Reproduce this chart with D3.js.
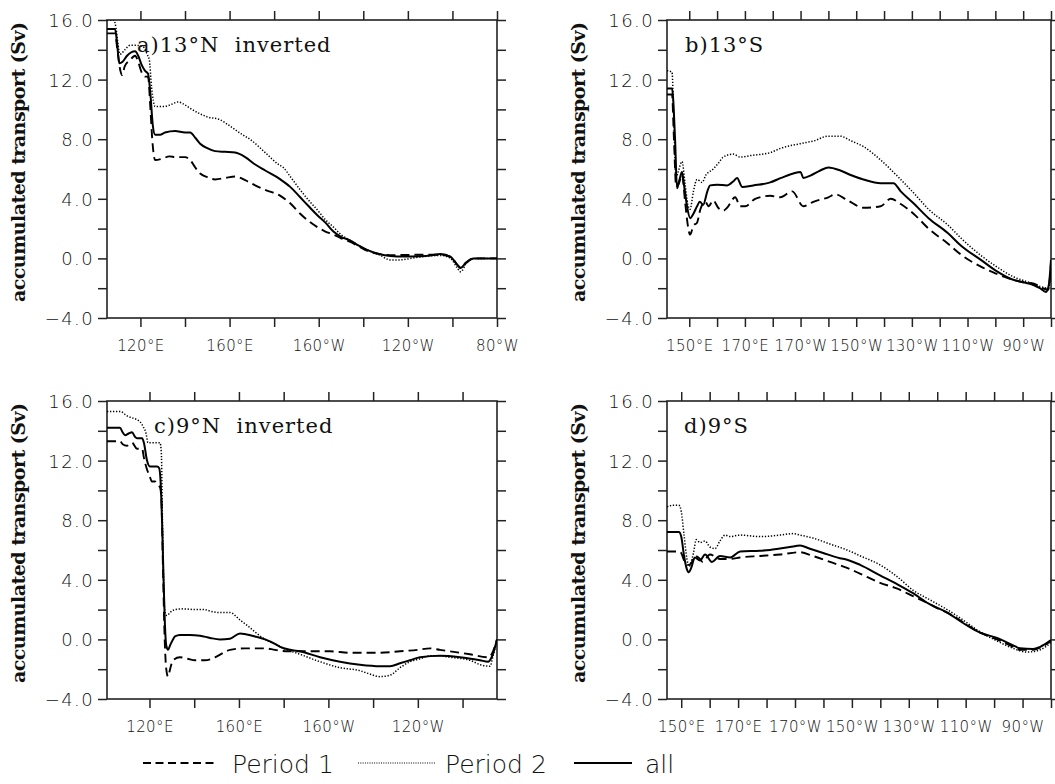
<!DOCTYPE html>
<html>
<head>
<meta charset="utf-8">
<script src="https://cdn.jsdelivr.net/npm/d3@7"></script>
<style>
  html, body { margin: 0; padding: 0; background: #fff; }
  svg { display: block; }
</style>
</head>
<body>
<svg id="chart" width="1055" height="784"></svg>
<script>
// ---- accumulated transport (Sv) along each section, [longitude (deg E, 0-360), value] ----

// a) 13°N inverted
const a_period1 = [[105,15.1],[108.6,15.1],[109.5,14.2],[111,12.6],[111.7,12.3],[113,12.9],[115.3,13.3],[117.6,13.6],[119,13.2],[120.5,12.5],[122,12.2],[123.4,12.2],[124.5,10],[125.3,8],[126.6,6.6],[130,6.7],[133,6.85],[136,6.8],[140,6.8],[142.3,6.6],[144.6,6.1],[146.8,5.7],[150,5.45],[153.5,5.3],[158,5.4],[162.5,5.5],[167,5.25],[171.5,4.9],[176,4.6],[182.8,4.2],[187.2,3.7],[191.7,3.0],[195.5,2.5],[199.4,2.1],[203,1.8],[206.6,1.6],[210,1.35],[214.2,1.1],[218,0.8],[221.9,0.5],[227,0.3],[232.2,0.22],[240,0.23],[245.7,0.25],[254.7,0.25],[259.2,0.1],[263.7,-0.6],[266,-0.3],[269.5,0],[280,0]];
const a_period2 = [[105,16],[108,16],[109,15.5],[110,14.3],[110.8,13.7],[113,14.0],[115.3,14.3],[118,14.3],[121.2,14.2],[123,13.7],[124,13.3],[125,11.5],[126.6,10.2],[131,10.2],[134,10.35],[136.9,10.5],[140,10.3],[142,10.1],[146.8,9.7],[150,9.5],[155.8,9.3],[160,8.9],[164.8,8.4],[170,7.9],[176,7.1],[182,6.3],[184.1,6.1],[187.2,5.5],[191.7,4.6],[195.5,3.9],[199.4,3.25],[203,2.6],[206.6,2.1],[210,1.6],[214.2,1.2],[220,0.7],[227.7,0.2],[232,-0.1],[236,-0.1],[245.7,0.1],[254.7,0.2],[259.2,0],[262,-0.6],[263.7,-0.9],[266,-0.4],[270,0],[280,0]];
const a_all = [[105,15.4],[108.6,15.4],[109.5,14.5],[110.5,13.1],[112,13.2],[114,13.6],[117.6,13.9],[119,13.6],[120.5,13.0],[122,12.6],[123.4,12.4],[124.5,11],[125.5,9],[126.6,8.3],[128.8,8.3],[131,8.45],[135.6,8.55],[140,8.45],[142.3,8.45],[144.6,8.1],[146.8,7.7],[150,7.4],[153.5,7.2],[158,7.15],[162.5,7.1],[167,6.8],[171.5,6.3],[176,5.9],[182.8,5.3],[187.2,4.8],[191.7,4.1],[195.5,3.5],[199.4,2.9],[203,2.4],[206.6,1.8],[210,1.45],[214.2,1.2],[218,0.85],[221.9,0.56],[227,0.3],[232.2,0.16],[238,0.12],[245.7,0.15],[250,0.2],[254.7,0.3],[259.2,0.1],[262,-0.4],[263.7,-0.65],[266,-0.3],[269.5,0],[280,0]];

// b) 13°S
const b_period1 = [[142,11.0],[143.8,11.0],[144.5,8],[145.3,4.8],[146.2,5.0],[147.4,5.6],[148.5,3.8],[149.5,2.2],[150.3,1.6],[151.5,2.2],[152.8,2.4],[154,3.3],[155.7,3.8],[157,3.5],[158.6,3.9],[160.4,3.4],[162.2,3.2],[163.6,3.4],[166.5,4.1],[168.3,3.5],[170.1,3.5],[173.7,4.0],[179.1,4.2],[182.7,4.1],[187,4.5],[191,3.5],[194.6,3.8],[200,4.1],[202.5,4.3],[206.9,3.9],[212.6,3.4],[218.8,3.5],[222.4,4.0],[226,3.65],[230.6,3.0],[236,2.0],[242.9,1.0],[248,0.2],[254.8,-0.55],[260,-1.0],[266.7,-1.45],[270,-1.6],[273.9,-1.7],[277,-2.0],[279,-2.1],[280,-0.3]];
const b_period2 = [[142,12.6],[143.8,12.5],[144.5,9],[145.2,5.4],[146,5.8],[147.4,6.5],[148.5,5.0],[149.5,3.6],[150.3,3.3],[151.5,4.5],[152.8,5.3],[154.6,5.1],[156,5.6],[158.6,6.0],[160.5,6.4],[162.2,6.8],[165.8,7.0],[168.3,6.8],[172,6.9],[179.1,7.1],[183,7.4],[189.9,7.7],[195,7.9],[199.7,8.2],[204.3,8.2],[208,7.9],[212.6,7.5],[218.8,6.6],[224.9,5.5],[230.6,4.4],[236,3.3],[242.9,2.25],[248,1.3],[254.8,0.2],[260,-0.5],[266.7,-1.25],[272,-1.6],[276.4,-1.9],[279,-2.0],[279.6,-1.5],[280,-0.6]];
const b_all = [[142,11.4],[143.8,11.4],[144.9,8],[145.6,4.7],[146.5,5.3],[147.4,5.8],[148.2,4.8],[149.2,3.5],[150.3,2.7],[151.5,3.0],[152.8,3.5],[153.8,3.8],[155,3.6],[156.5,4.5],[157.5,4.9],[160,4.95],[163.6,4.9],[166,5.2],[167.2,5.4],[169,4.8],[173,4.9],[179.1,5.1],[183,5.4],[187.4,5.7],[190,5.8],[191,5.4],[194,5.6],[197.1,5.9],[200,6.1],[204.3,5.9],[208,5.6],[212.6,5.3],[218.8,5.05],[223.4,5.05],[226,4.5],[230.6,3.7],[236,2.7],[242.9,1.7],[248,0.8],[254.8,-0.1],[260,-0.8],[266.7,-1.45],[270,-1.6],[273.9,-1.8],[276,-2.0],[278.2,-2.25],[279.2,-1.8],[280,-0.1]];

// c) 9°N inverted
const c_period1 = [[101,13.3],[105.5,13.3],[106.8,13.3],[108,13.1],[109.9,13.0],[112.2,13.2],[114.4,12.8],[116.7,12.8],[117.5,12.2],[118.9,11.4],[120,11.0],[121.1,10.6],[122.5,10.6],[123.4,10.4],[124.7,10.2],[125.3,9.5],[126,5],[126.8,0],[127.5,-2.0],[128.3,-2.5],[129.2,-2.0],[130.5,-1.4],[133.6,-1.2],[137,-1.3],[140.4,-1.4],[144.8,-1.4],[149.3,-1.2],[153,-0.9],[156,-0.7],[162.7,-0.6],[171.7,-0.6],[176.1,-0.7],[182,-0.8],[187.3,-0.8],[196.3,-0.8],[200.7,-0.8],[209.7,-0.9],[223.1,-0.9],[232,-0.8],[240,-0.7],[245.5,-0.6],[249.9,-0.7],[254.4,-0.8],[263.3,-1.0],[271.4,-1.2],[273,-1.0],[275.4,0]];
const c_period2 = [[101,15.3],[106.8,15.3],[110,15.0],[115.8,14.6],[117.1,14.3],[118.5,13.8],[119.3,13.2],[124.7,13.2],[125.3,12.5],[125.8,8],[126.3,4],[127,1.8],[127.8,1.6],[129.2,1.8],[131.4,2.0],[135,2.05],[140.4,2.0],[144.8,2.0],[147.1,1.9],[151.5,1.8],[156,1.8],[160.5,1.3],[164,0.9],[167.2,0.5],[171.7,0.0],[176.1,-0.3],[180,-0.6],[187.3,-1.0],[196.3,-1.5],[205.2,-1.9],[214.1,-2.1],[218,-2.3],[223.1,-2.5],[227.6,-2.4],[232,-1.9],[236.5,-1.5],[241,-1.3],[245.5,-1.1],[249.9,-1.1],[254.4,-1.2],[263.3,-1.4],[268,-1.7],[272.3,-1.8],[273.5,-1.2],[275.4,0]];
const c_all = [[101,14.2],[106.8,14.2],[108,13.9],[109.1,13.7],[110.5,13.8],[112.2,13.9],[113.5,13.6],[114.4,13.5],[116.7,13.5],[117.5,13.2],[118.9,12.0],[120.2,11.6],[123.4,11.6],[124.3,11.5],[125,10.5],[125.6,8],[126.3,4],[126.9,1],[127.5,-0.4],[128.3,-0.7],[129.2,-0.4],[130.5,0],[131.4,0.2],[133.6,0.3],[138,0.3],[142.6,0.25],[147.1,0.1],[151.5,0.0],[156,0.05],[160.5,0.4],[163,0.35],[167.2,0.2],[171.7,0.0],[176.1,-0.3],[178.4,-0.5],[183,-0.7],[187.3,-0.8],[196.3,-1.2],[205.2,-1.5],[214.1,-1.7],[223.1,-1.8],[227.6,-1.8],[232,-1.6],[236.5,-1.4],[241,-1.2],[249.9,-1.1],[258.9,-1.2],[267.8,-1.4],[271.4,-1.5],[273,-1.2],[275.4,0]];

// d) 9°S
const d_period1 = [[145,5.9],[149.2,5.9],[150,5.8],[151,5.3],[152.4,5.0],[153.5,5.1],[154.8,5.6],[156.6,5.4],[157.5,5.2],[160.1,5.7],[163.6,5.4],[167.2,5.4],[170.7,5.5],[177.7,5.6],[184.7,5.7],[191.8,5.85],[196.3,5.6],[202.3,5.2],[208.3,4.8],[213,4.4],[219.9,3.8],[226,3.4],[231.5,2.9],[237,2.4],[241,2.0],[243.5,1.8],[249.1,1.15],[255.1,0.45],[261,0.0],[266.7,-0.5],[269.1,-0.7],[273.7,-0.7],[276.2,-0.55],[280,-0.1]];
const d_period2 = [[145,8.9],[147,9.0],[149.2,9.0],[150,8.6],[151,7],[152,5.4],[152.8,4.9],[153.5,5.2],[154.3,5.8],[155.3,6.7],[156.6,6.5],[158.4,6.6],[160.1,6.2],[161.9,6.1],[163.6,6.6],[165.4,7.0],[167.2,6.9],[170.7,7.0],[177.7,6.9],[184.7,7.0],[189.3,7.1],[191.8,7.0],[196.3,6.8],[202.3,6.4],[208.3,6.0],[213,5.6],[219.9,5.0],[226,4.2],[231.5,3.3],[237,2.7],[243.5,2.0],[249.1,1.3],[255.1,0.5],[261,-0.1],[266.7,-0.6],[271.6,-0.85],[276.2,-0.7],[280,-0.2]];
const d_all = [[145,7.2],[149.2,7.2],[150,6.9],[151,5.6],[152,4.7],[152.7,4.5],[153.5,4.8],[154.8,5.5],[156.6,5.3],[158.4,5.7],[160.8,5.2],[163.6,5.6],[167.2,5.5],[170.7,5.9],[177.7,5.95],[181.2,6.0],[184.7,6.1],[188.2,6.2],[191.8,6.3],[195,6.1],[199.9,5.8],[205.8,5.45],[208.3,5.35],[212.9,5.0],[219.9,4.3],[226,3.7],[231.5,3.1],[237,2.4],[243.5,1.8],[249.1,1.1],[255.1,0.45],[261,0.1],[266.7,-0.4],[269.1,-0.6],[273.7,-0.65],[276.2,-0.5],[280,-0.05]];

// ---- axis ticks and labels ----
const yTickValues = [-4,-2,0,2,4,6,8,10,12,14,16];
const yLabelValues = [-4,0,4,8,12,16];
const yLabelTexts = ["\u22124.0","0.0","4.0","8.0","12.0","16.0"];

const xTicksNorth = [120,140,160,180,200,220,240,260,280];
const xLabelLonA = [120,160,200,240,280];
const xLabelTextA = ["120°E","160°E","160°W","120°W","80°W"];
const xLabelLonC = [120,160,200,240];
const xLabelTextC = ["120°E","160°E","160°W","120°W"];

const xTicksSouth = [150,160,170,180,190,200,210,220,230,240,250,260,270,280];
const xLabelLonS = [150,170,190,210,230,250,270];
const xLabelTextS = ["150°E","170°E","170°W","150°W","130°W","110°W","90°W"];

const seriesNames = ["Period 1","Period 2","all"];
const panelTitles = ["a)13°N  inverted","b)13°S","c)9°N  inverted","d)9°S"];
const yAxisTitle = "accumulated transport (Sv)";

// ---- layout ----
const lineStyles = [
  { dash: "9,5", width: 1.9 },     // Period 1
  { dash: "1.3,1.7", width: 1.5 }, // Period 2
  { dash: null, width: 2.0 }       // all
];

const panels = [
  { left: 107, right: 497, top: 20, bottom: 318, lon: [105, 280], ticks: xTicksNorth,
    labLon: xLabelLonA, labText: xLabelTextA, title: panelTitles[0], titleDx: 30,
    series: [a_period1, a_period2, a_all], ylabX: 25 },
  { left: 667, right: 1051, top: 20, bottom: 318, lon: [142, 280], ticks: xTicksSouth,
    labLon: xLabelLonS, labText: xLabelTextS, title: panelTitles[1], titleDx: 18,
    series: [b_period1, b_period2, b_all], ylabX: 585 },
  { left: 107, right: 497, top: 401, bottom: 699, lon: [101, 275.4], ticks: xTicksNorth.filter(v => v <= 275.4),
    labLon: xLabelLonC, labText: xLabelTextC, title: panelTitles[2], titleDx: 47,
    series: [c_period1, c_period2, c_all], ylabX: 25 },
  { left: 667, right: 1051, top: 401, bottom: 699, lon: [145, 280], ticks: xTicksSouth,
    labLon: xLabelLonS, labText: xLabelTextS, title: panelTitles[3], titleDx: 17,
    series: [d_period1, d_period2, d_all], ylabX: 585 }
];

const ink = "#222";
const tickFont = "DejaVu Sans, sans-serif";
const tickWeight = 200;
const serifFont = "DejaVu Serif, serif";

const svg = d3.select("#chart");

panels.forEach((p, i) => {
  const x = d3.scaleLinear().domain(p.lon).range([p.left, p.right]);
  const y = d3.scaleLinear().domain([-4, 16]).range([p.bottom, p.top]);
  const g = svg.append("g");

  // clip for the curves
  const clipId = "clip" + i;
  svg.append("clipPath").attr("id", clipId)
    .append("rect").attr("x", p.left).attr("y", p.top)
    .attr("width", p.right - p.left).attr("height", p.bottom - p.top);

  const labelMap = new Map(p.labLon.map((v, k) => [v, p.labText[k]]));

  // bottom axis with labels
  const bottomAxis = g.append("g").attr("transform", `translate(0,${p.bottom})`)
    .call(d3.axisBottom(x).tickValues(p.ticks).tickSize(9).tickSizeOuter(0)
      .tickFormat(v => labelMap.get(v) || ""));
  bottomAxis.selectAll("text")
    .attr("y", 22).attr("dy", "0.71em")
    .style("font-family", tickFont).style("font-size", "15px").style("font-weight", tickWeight)
    .style("letter-spacing", "0.4px").attr("fill", "#111");

  // top axis (ticks only)
  g.append("g").attr("transform", `translate(0,${p.top})`)
    .call(d3.axisTop(x).tickValues(p.ticks).tickSize(9).tickSizeOuter(0).tickFormat(""));

  // left axis with labels
  const yMap = new Map(yLabelValues.map((v, k) => [v, yLabelTexts[k]]));
  const leftAxis = g.append("g").attr("transform", `translate(${p.left},0)`)
    .call(d3.axisLeft(y).tickValues(yTickValues).tickSize(9).tickSizeOuter(0)
      .tickFormat(v => yMap.get(v) || ""));
  leftAxis.selectAll("text")
    .attr("x", -13).attr("dy", "0.36em")
    .style("font-family", tickFont).style("font-size", "18px").style("font-weight", tickWeight)
    .style("letter-spacing", "1.4px").attr("fill", "#111");

  // right axis (ticks only)
  g.append("g").attr("transform", `translate(${p.right},0)`)
    .call(d3.axisRight(y).tickValues(yTickValues).tickSize(9).tickSizeOuter(0).tickFormat(""));

  g.selectAll(".domain").remove();
  g.selectAll(".tick line").attr("stroke", ink).attr("stroke-width", 1.5);

  // frame
  g.append("rect")
    .attr("x", p.left).attr("y", p.top)
    .attr("width", p.right - p.left).attr("height", p.bottom - p.top)
    .attr("fill", "none").attr("stroke", ink).attr("stroke-width", 1.6);

  // curves
  const line = d3.line().x(d => x(d[0])).y(d => y(d[1])).curve(d3.curveMonotoneX);
  const curves = g.append("g").attr("clip-path", `url(#${clipId})`);
  p.series.forEach((s, k) => {
    curves.append("path")
      .datum(s)
      .attr("d", line)
      .attr("fill", "none")
      .attr("stroke", "#000")
      .attr("stroke-width", lineStyles[k].width)
      .attr("stroke-dasharray", lineStyles[k].dash)
      .attr("stroke-linejoin", "round");
  });

  // panel title
  g.append("text")
    .attr("x", p.left + p.titleDx).attr("y", p.top + 32)
    .style("font-family", serifFont).style("font-size", "21px")
    .style("letter-spacing", "1px").style("white-space", "pre")
    .attr("fill", "#111")
    .text(p.title);

  // y axis title
  const cy = (p.top + p.bottom) / 2 - 7;
  g.append("text")
    .attr("transform", `translate(${p.ylabX},${cy}) rotate(-90)`)
    .attr("text-anchor", "middle")
    .style("font-family", serifFont).style("font-size", "19px").style("font-weight", "bold")
    .attr("textLength", 280).attr("lengthAdjust", "spacing")
    .attr("fill", "#111")
    .text(yAxisTitle);
});

// ---- legend ----
const legendY = 763;
const legendItems = [
  { x1: 143, x2: 217, tx: 232 },
  { x1: 358, x2: 435, tx: 445 },
  { x1: 574, x2: 632, tx: 645 }
];
const legend = svg.append("g");
legendItems.forEach((it, k) => {
  legend.append("line")
    .attr("x1", it.x1).attr("x2", it.x2).attr("y1", legendY).attr("y2", legendY)
    .attr("stroke", "#000")
    .attr("stroke-width", k === 1 ? 1.2 : lineStyles[k].width)
    .attr("stroke-dasharray", k === 0 ? "8,4.5" : (k === 1 ? "1,1.3" : null));
  legend.append("text")
    .attr("x", it.tx).attr("y", legendY + 10)
    .style("font-family", tickFont).style("font-size", "25px").style("font-weight", tickWeight)
    .style("letter-spacing", "0px")
    .attr("fill", "#111")
    .text(seriesNames[k]);
});
</script>
</body>
</html>
